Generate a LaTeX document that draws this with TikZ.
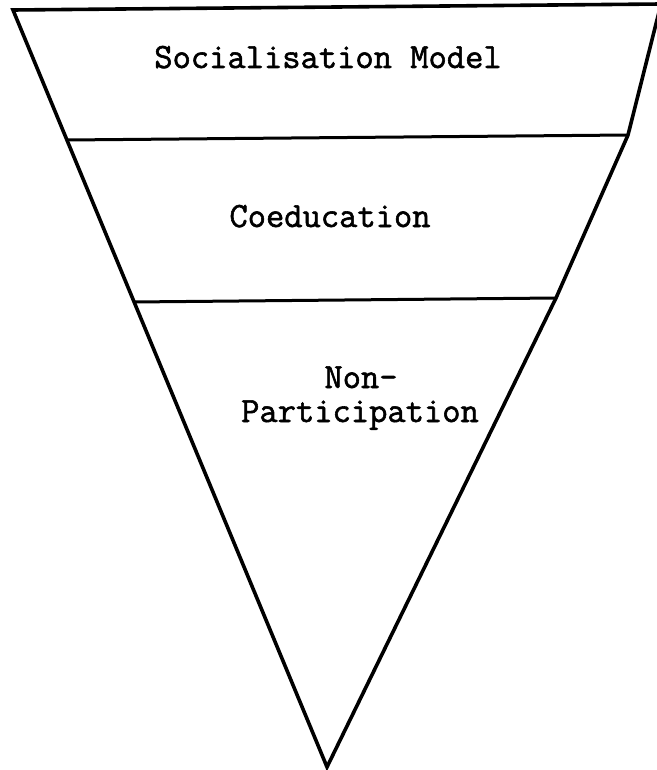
\documentclass[tikz,border=0pt]{standalone}
\usepackage{fontspec}
\newfontfamily\typewriter{Latin Modern Mono}[FakeBold=1.6]
\begin{document}
\begin{tikzpicture}[x=1pt,y=-1pt,
  edge/.style={line width=3.6pt,line join=miter,line cap=round},
  band/.style={line width=3pt},
  label/.style={font=\fontsize{35.5}{40}\selectfont\typewriter,inner sep=0pt,align=center}]
\useasboundingbox (0,0) rectangle (656,770);
% corners of the inverted triangle
\coordinate (tl) at (13,10);
\coordinate (tr) at (661,4);
\coordinate (apex) at (327,767);
% points where the band lines meet the sides
\coordinate (l1) at (67,140);
\coordinate (r1) at (628,135);
\coordinate (l2) at (133,302);
\coordinate (r2) at (556,298);
% outline
\draw[edge] (tr) -- (tl) -- (apex) -- (r2) -- (r1) -- (tr);
% bands
\draw[band] (l1) -- (r1);
\draw[band] (l2) -- (r2);
% labels
\node[label,anchor=base] (soc) at (328,68) {Socialisation Model};
\node[label,anchor=base] (coed) at (330,227) {Coeducation};
\node[label,anchor=base] (non) at (361,388) {Non-};
\node[label,anchor=base] (part) at (360,422) {Participation};
\end{tikzpicture}
\end{document}
